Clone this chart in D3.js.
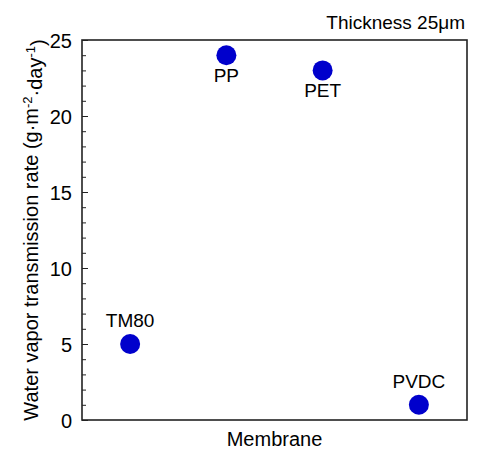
<!DOCTYPE html>
<html>
<head>
<meta charset="utf-8">
<script src="https://cdn.jsdelivr.net/npm/d3@7"></script>
<style>
  body { margin: 0; background: #fff; }
  text { font-family: "Liberation Sans", Arial, sans-serif; fill: #000; }
</style>
</head>
<body>
<div id="chart"></div>
<script>
// membranes and their water vapor transmission rate
const membranes = ["TM80", "PP", "PET", "PVDC"];
const rates = [5, 24, 23, 1];
const labelSide = ["above", "below", "below", "above"];
const majorTicks = [0, 5, 10, 15, 20, 25];

const width = 482, height = 449;
const margin = { top: 40, right: 15, bottom: 29, left: 82 };

let svg = d3.select("#chart")
    .append("svg")
    .attr("width", width)
    .attr("height", height);

let x = d3.scalePoint()
    .domain(membranes)
    .range([margin.left, width - margin.right])
    .padding(0.5);

let y = d3.scaleLinear()
    .domain([0, 25])
    .range([height - margin.bottom, margin.top]);

// frame
svg.append("rect")
    .attr("x", margin.left)
    .attr("y", margin.top)
    .attr("width", width - margin.right - margin.left)
    .attr("height", height - margin.bottom - margin.top)
    .attr("fill", "none")
    .attr("stroke", "#222")
    .attr("stroke-width", 1.6);

// minor ticks, inward
svg.append("g")
    .attr("transform", `translate(${margin.left},0)`)
    .call(d3.axisRight(y).ticks(25).tickSize(4).tickFormat(""))
    .call(g => g.select(".domain").remove())
    .call(g => g.selectAll("line").attr("stroke", "#222"));

// major ticks with labels
let yAxis = svg.append("g")
    .attr("transform", `translate(${margin.left},0)`)
    .call(d3.axisRight(y).tickValues(majorTicks).tickSize(6).tickFormat(d3.format("d")))
    .call(g => g.select(".domain").remove())
    .call(g => g.selectAll("line").attr("stroke", "#222"));

yAxis.selectAll("text")
    .attr("x", -10)
    .attr("text-anchor", "end")
    .attr("dy", "0.36em")
    .style("font-size", "20px")
    .style("font-family", "Liberation Sans, Arial, sans-serif")
    .attr("fill", "#000");

// points
svg.append("g")
    .selectAll("circle")
    .data(membranes)
    .join("circle")
    .attr("cx", d => x(d))
    .attr("cy", (d, i) => y(rates[i]))
    .attr("r", 10)
    .attr("fill", "#0000cc");

// point labels
svg.append("g")
    .selectAll("text")
    .data(membranes)
    .join("text")
    .attr("x", d => x(d))
    .attr("y", (d, i) => labelSide[i] === "above" ? y(rates[i]) - 17 : y(rates[i]) + 27)
    .attr("text-anchor", "middle")
    .style("font-size", "19px")
    .text(d => d);

// x title
svg.append("text")
    .attr("x", (margin.left + width - margin.right) / 2)
    .attr("y", 446)
    .attr("text-anchor", "middle")
    .style("font-size", "20px")
    .text("Membrane");

// thickness note
svg.append("text")
    .attr("x", width - 17)
    .attr("y", 29)
    .attr("text-anchor", "end")
    .style("font-size", "19px")
    .text("Thickness 25\u03bcm");

// y title with superscripts
let yTitle = svg.append("text")
    .attr("transform", `translate(38,${(margin.top + height - margin.bottom) / 2}) rotate(-90)`)
    .attr("text-anchor", "middle")
    .style("font-size", "20px");

yTitle.append("tspan").text("Water vapor transmission rate (g\u00b7m");
yTitle.append("tspan").attr("dy", "-0.5em").style("font-size", "13px").text("-2");
yTitle.append("tspan").attr("dy", "0.5em").text("\u00b7day");
yTitle.append("tspan").attr("dy", "-0.5em").style("font-size", "13px").text("-1");
yTitle.append("tspan").attr("dy", "0.5em").text(")");
</script>
</body>
</html>
